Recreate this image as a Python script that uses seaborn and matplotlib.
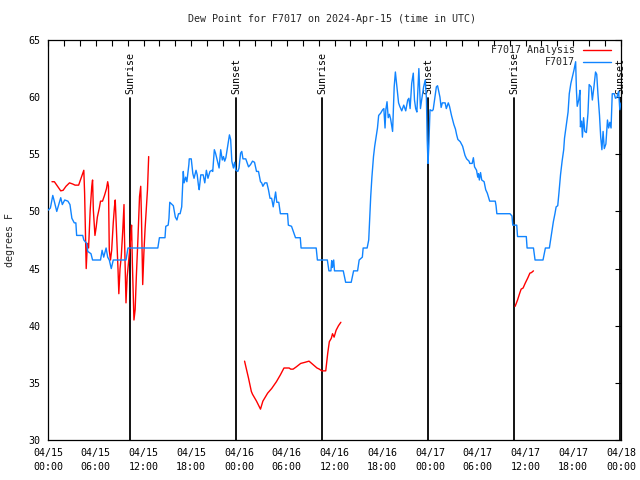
import matplotlib
matplotlib.use('Agg')
import matplotlib.pyplot as plt
import matplotlib.dates as mdates
import matplotlib.transforms as mtransforms
from matplotlib.lines import Line2D
import numpy as np
import pandas as pd
import seaborn as sns

# observations and analysis, hours after 2024-04-15 00:00 UTC
start = pd.Timestamp('2024-04-15 00:00')

blue_hours = [0.0, 0.3, 0.6, 0.75, 1.1, 1.35, 1.6, 1.8, 2.1, 2.5, 2.76, 3.0, 3.3, 3.5, 3.6, 4.36, 4.5, 4.86,
              5.0, 5.4, 5.6, 6.6, 6.8, 7.0, 7.3, 7.5, 7.7, 7.95, 8.2, 9.8, 10.05, 13.8, 14.0, 14.7, 14.8, 15.1,
              15.2, 15.3, 15.75, 16.0, 16.2, 16.4, 16.6, 16.8, 16.9, 17.0, 17.1, 17.3, 17.45, 17.7, 17.75, 18.0,
              18.2, 18.35, 18.6, 18.75, 18.9, 19.0, 19.2, 19.5, 19.7, 19.9, 20.1, 20.35, 20.6, 20.7, 20.9, 21.05,
              21.3, 21.5, 21.7, 21.9, 22.05, 22.2, 22.35, 22.6, 22.8, 22.95, 23.1, 23.3, 23.45, 23.6, 23.85, 24.0,
              24.2, 24.35, 24.5, 24.85, 25.2, 25.45, 25.7, 25.95, 26.2, 26.45, 26.7, 26.85, 27.0, 27.25, 27.5,
              27.7, 27.9, 28.1, 28.3, 28.6, 28.75, 29.0, 29.2, 30.1, 30.2, 30.6, 30.9, 31.1, 31.7, 31.8, 33.7,
              33.85, 35.1, 35.3, 35.55, 35.65, 35.75, 35.9, 36.0, 37.1, 37.4, 38.1, 38.4, 38.9, 39.1, 39.5, 39.6,
              40.1, 40.3, 40.4, 40.55, 40.7, 40.9, 41.05, 41.2, 41.4, 41.55, 41.8, 42.05, 42.2, 42.35, 42.45, 42.6,
              42.75, 42.9, 43.05, 43.3, 43.5, 43.65, 43.8, 44.05, 44.2, 44.45, 44.7, 44.95, 45.2, 45.35, 45.5,
              45.7, 45.9, 46.05, 46.2, 46.35, 46.6, 46.8, 46.95, 47.2, 47.4, 47.55, 47.65, 47.75, 47.85, 48.0,
              48.25, 48.4, 48.6, 48.8, 48.95, 49.1, 49.25, 49.4, 49.55, 49.9, 50.05, 50.3, 50.45, 50.7, 50.85,
              51.0, 51.2, 51.35, 51.5, 51.8, 51.95, 52.1, 52.25, 52.4, 52.6, 52.9, 53.0, 53.3, 53.45, 53.6, 53.85,
              54.0, 54.1, 54.2, 54.35, 54.5, 54.8, 55.0, 55.2, 55.5, 56.2, 56.3, 56.4, 58.05, 58.3, 58.4, 58.9,
              59.0, 60.1, 60.2, 61.0, 61.2, 62.2, 62.5, 63.0, 63.15, 63.3, 63.5, 63.7, 63.85, 64.05, 64.2, 64.4,
              64.6, 64.8, 64.9, 65.1, 65.35, 65.5, 65.7, 65.9, 66.1, 66.3, 66.4, 66.5, 66.7, 66.85, 66.9, 67.05,
              67.15, 67.3, 67.45, 67.65, 67.85, 68.0, 68.25, 68.4, 68.6, 68.8, 68.95, 69.1, 69.3, 69.45, 69.6,
              69.75, 69.9, 70.1, 70.3, 70.45, 70.6, 70.75, 70.9, 71.15, 71.3, 71.5, 71.7, 71.85, 72.0]
blue_vals = [50.1, 50.3, 51.4, 51.0, 50.0, 50.6, 51.2, 50.6, 51.0, 50.9, 50.6, 49.4, 49.0, 49.0, 47.9, 47.9, 47.5, 47.2,
             46.5, 46.3, 45.75, 45.75, 46.6, 46.0, 46.8, 46.0, 45.75, 45.0, 45.75, 45.75, 46.8, 46.8, 47.7, 47.7, 48.7, 48.8,
             49.4, 50.8, 50.5, 49.5, 49.25, 49.8, 49.8, 50.4, 52.0, 53.5, 52.5, 53.0, 52.6, 54.1, 54.6, 54.6,
             53.3, 52.9, 53.6, 53.2, 52.3, 51.9, 53.2, 53.2, 52.5, 53.6, 52.9, 53.5, 53.6, 53.5, 55.4, 55.1,
             54.4, 53.8, 55.4, 54.5, 54.8, 54.4, 54.7, 55.8, 56.7, 56.3, 54.4, 53.8, 54.3, 53.6, 53.5, 53.8,
             55.1, 55.25, 54.6, 54.6, 53.9, 54.1, 54.4, 54.3, 53.5, 53.5, 52.6, 52.5, 52.2, 52.5, 52.5,
             51.9, 51.15, 51.15, 50.4, 51.7, 50.8, 50.8, 49.8, 49.8, 48.8, 48.7, 48.1, 47.7, 47.7, 46.8, 46.8,
             45.75, 45.75, 44.8, 44.8, 45.7, 45.1, 45.75, 44.8, 44.8, 43.8, 43.8, 44.8, 44.8, 45.75, 46.0, 46.8,
             46.8, 47.5, 49.0, 51.3, 53.0, 54.8, 55.7, 56.4, 57.3, 58.4, 58.6, 58.9, 59.0, 57.3, 58.9, 59.6,
             58.2, 58.5, 58.1, 57.0, 60.9, 62.2, 61.2, 59.5, 59.2, 58.8, 59.3, 58.8, 59.75, 59.9, 59.0,
             61.2, 62.1, 59.75, 59.0, 58.7, 62.5, 59.0, 59.75, 60.9, 61.5, 59.9, 56.25, 54.2, 55.7, 58.9,
             58.8, 58.9, 59.9, 60.9, 61.0, 60.5, 60.0, 59.1, 59.5, 59.5, 59.0, 59.5, 59.2, 58.4, 58.0,
             57.6, 57.2, 56.7, 56.3, 56.1, 55.9, 55.7, 55.3, 54.9, 54.6, 54.4, 54.2, 54.2, 54.7, 53.9, 53.6,
             53.0, 53.3, 52.75, 53.4, 52.75, 52.6, 51.9, 51.6, 50.9, 50.9, 50.5, 49.8, 49.8, 49.6, 48.8, 48.8,
             47.8, 47.8, 46.8, 46.8, 45.75, 45.75, 46.8, 46.8, 47.5, 48.2, 49.1, 49.8, 50.4, 50.5, 51.6, 53.2,
             54.4, 55.4, 56.4, 57.4, 58.7, 60.3, 61.2, 61.8, 62.4, 63.1, 60.6, 59.2, 59.8, 60.6, 57.4, 57.9,
             56.5, 58.2, 57.0, 56.9, 58.6, 61.1, 60.9, 59.75, 60.9, 62.2, 62.0, 60.3, 58.4, 56.5, 55.4,
             57.0, 55.5, 55.9, 58.0, 57.3, 57.8, 57.3, 60.3, 60.3, 59.9, 60.0, 60.5, 58.9, 59.5]

red_hours = [0.5, 0.8, 1.2, 1.6, 1.9, 2.26, 2.7, 3.1, 3.4, 3.85, 4.2, 4.5, 4.6, 4.8, 4.95, 5.1, 5.3, 5.5, 5.6,
             5.7, 5.9, 6.05, 6.2, 6.45, 6.6, 6.85, 7.1, 7.35, 7.5, 7.6, 7.7, 7.85, 8.0, 8.2, 8.35, 8.45, 8.55,
             8.65, 8.8, 8.9, 9.05, 9.2, 9.4, 9.55, 9.6, 9.8, 9.95, 10.1, 10.3, 10.45, 10.5, 10.6, 10.8, 10.95,
             11.1, 11.3, 11.5, 11.65, 11.75, 11.9, 12.05, 12.2, 12.5, 12.65,
             24.7, 25.2, 25.55, 25.7, 26.2, 26.7, 27.0, 27.6, 28.1, 28.7, 29.2, 29.65, 30.3, 30.5, 30.8, 31.2,
             31.75, 32.3, 32.8, 33.3, 33.8, 34.1, 34.4, 34.9, 35.15, 35.35, 35.6, 35.75, 35.95, 36.2, 36.5, 36.8,
             58.7, 59.0, 59.25, 59.45, 59.7, 59.95, 60.3, 60.55, 60.75, 61.0]
red_vals = [52.6, 52.6, 52.2, 51.8, 51.85, 52.2, 52.5, 52.4, 52.3, 52.3, 53.0, 53.6, 51.6, 45.0, 47.2, 46.8, 50.1, 52.2, 52.75,
            50.1, 47.9, 48.6, 49.5, 50.3, 50.9, 50.9, 51.4, 52.0, 52.6, 52.2, 46.6, 45.75, 46.6, 49.0, 50.4, 51.0, 49.3,
            47.5, 44.9, 42.8, 45.0, 46.0, 48.4, 50.6, 48.1, 42.0, 44.3, 45.4, 46.9, 48.4, 48.8, 45.5, 40.5, 41.4,
            44.3, 47.6, 51.3, 52.2, 49.3, 43.6, 46.4, 48.5, 51.9, 54.8,
            36.9, 35.4, 34.25, 34.0, 33.4, 32.7, 33.4, 34.1, 34.5, 35.1, 35.7, 36.3, 36.3, 36.2, 36.2, 36.4,
            36.7, 36.8, 36.9, 36.6, 36.3, 36.2, 36.05, 36.05, 37.6, 38.6, 38.9, 39.3, 39.0, 39.6, 40.0, 40.3,
            41.7, 42.25, 42.8, 43.2, 43.3, 43.7, 44.2, 44.6, 44.65, 44.8]

sun_hours = [10.30, 23.62, 34.43, 47.75, 58.56, 71.88]
sun_labels = ['Sunrise', 'Sunset', 'Sunrise', 'Sunset', 'Sunrise', 'Sunset']

tick_hours = list(range(0, 73, 6))

BLUE = '#1084ff'
RED = '#ff0000'

sns.set_theme(style='white')
plt.rcParams['font.family'] = ['DejaVu Sans Mono']
plt.rcParams['font.size'] = 7.2

blue_df = pd.DataFrame({'time': start + pd.to_timedelta(blue_hours, unit='h'), 'dewpt': blue_vals})
red_df = pd.DataFrame({'time': start + pd.to_timedelta(red_hours, unit='h'), 'dewpt': red_vals})
# split the analysis into its separate runs where there is a gap in time
red_df['seg'] = (np.diff(red_hours, prepend=red_hours[0]) > 3).cumsum()

fig = plt.figure(figsize=(6.4, 4.8), dpi=100)
ax = fig.add_axes([48 / 640, 40 / 480, 573 / 640, 400 / 480])

# sunrise / sunset markers
trans = mtransforms.blended_transform_factory(ax.transData, ax.transAxes)
for h, lab in zip(sun_hours, sun_labels):
    t = start + pd.Timedelta(hours=h)
    ax.axvline(t, ymin=0, ymax=0.855, color='black', lw=1.3, zorder=1)
    ax.text(t, 0.865, lab, transform=trans, rotation=90, ha='center', va='bottom', color='black')

sns.lineplot(data=red_df, x='time', y='dewpt', units='seg', estimator=None, sort=False,
             color=RED, lw=1.0, ax=ax, zorder=2)
sns.lineplot(data=blue_df, x='time', y='dewpt', estimator=None, sort=False,
             color=BLUE, lw=1.0, ax=ax, zorder=3)

# axes, ticks and labels
ax.set_xlim(start, start + pd.Timedelta(hours=72))
ax.set_ylim(30, 65)
ax.set_yticks(range(30, 66, 5))
tick_times = [start + pd.Timedelta(hours=h) for h in tick_hours]
ax.set_xticks(tick_times, labels=[t.strftime('%m/%d\n%H:%M') for t in tick_times], linespacing=1.6)
ax.xaxis.set_minor_locator(mdates.HourLocator(byhour=range(0, 24, 2)))
ax.tick_params(which='both', direction='in', top=True, right=True, length=4, width=0.8,
               colors='black', labelsize=7.2)
ax.tick_params(axis='x', pad=5.5)
ax.tick_params(axis='y', pad=5.5)
ax.set_xlabel('')
ax.set_ylabel('')
for sp in ax.spines.values():
    sp.set_visible(True)
    sp.set_color('black')
    sp.set_linewidth(0.9)

fig.text(332 / 640, 1 - 19 / 480, 'Dew Point for F7017 on 2024-Apr-15 (time in UTC)',
         ha='center', va='center')
fig.text(10 / 640, 0.5, 'degrees F', rotation=90, ha='center', va='center')

handles = [Line2D([], [], color=RED, lw=1.0), Line2D([], [], color=BLUE, lw=1.0)]
ax.legend(handles, ['F7017 Analysis', 'F7017'], loc='upper right', bbox_to_anchor=(1, 1.012),
          frameon=False, markerfirst=False, handlelength=2.8, handletextpad=0.8,
          labelspacing=0.2, borderaxespad=0.6, fontsize=7.2)

fig.savefig('out.png', dpi=100)
